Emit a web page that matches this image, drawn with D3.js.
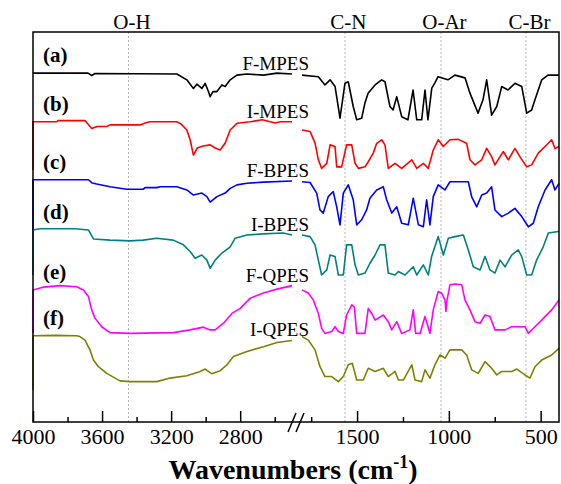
<!DOCTYPE html>
<html>
<head>
<meta charset="utf-8">
<script src="https://cdn.jsdelivr.net/npm/d3@7"></script>
<style>
body { margin: 0; background: #fff; }
text { font-family: "Liberation Serif", "Times New Roman", serif; fill: #000; }
</style>
</head>
<body>
<div class="ftir"></div>
<script>
// band assignments marked over the frame
var bandNames = ["O-H", "C-N", "O-Ar", "C-Br"];
var bandWn = [3447, 1566, 1043, 580];

var sampleNames = ["F-MPES", "I-MPES", "F-BPES", "I-BPES", "F-QPES", "I-QPES"];
var sampleTags = ["(a)", "(b)", "(c)", "(d)", "(e)", "(f)"];
var palette = ["#000000", "#ff0000", "#0000ff", "#008080", "#ff00ff", "#808000"];

var highMajor = [4000, 3600, 3200, 2800];
var highMinor = [3800, 3400, 3000, 2600];
var lowMajor = [1500, 1000, 500];
var lowMinor = [1750, 1250, 750];

// spectra: [wavenumber, offset transmittance (a.u.)], high and low range
var fmpesHigh = [[4000,90.0],[3681,90.0],[3660,89.4],[3641,89.9],[3167,89.8],[3109,88.3],[3071,86.1],[3051,87.2],[3022,86.1],[3003,87.4],[2984,85.3],[2974,84.0],[2958,85.3],[2935,85.3],[2906,87.0],[2887,86.6],[2858,88.3],[2819,89.5],[2761,89.8],[2665,89.5],[2587,90.0],[2500,89.8]];
var fmpesLow = [[1800,89.5],[1711,89.1],[1675,87.0],[1647,88.3],[1620,86.6],[1593,78.5],[1566,87.4],[1548,87.8],[1521,81.5],[1502,78.1],[1475,78.5],[1457,82.4],[1440,84.9],[1402,87.0],[1366,88.3],[1348,87.8],[1321,81.5],[1304,80.6],[1284,84.0],[1257,78.9],[1223,78.1],[1195,85.7],[1175,78.1],[1148,78.1],[1130,85.7],[1114,78.1],[1093,86.2],[1076,87.5],[1059,89.1],[1005,88.3],[967,89.5],[912,88.8],[885,84.9],[841,79.8],[814,83.2],[794,88.3],[767,79.3],[739,81.5],[712,86.6],[678,85.7],[640,87.4],[603,86.6],[576,79.8],[549,80.6],[531,83.2],[494,88.3],[460,89.5],[406,89.5],[400,89.5]];

var impesHigh = [[4000,65.3],[4000,77.6],[3863,77.6],[3855,77.9],[3699,77.9],[3660,75.9],[3629,76.4],[3573,76.4],[3554,76.8],[3380,76.8],[3351,77.3],[3322,77.6],[3167,77.6],[3142,77.0],[3109,75.5],[3090,73.0],[3071,69.1],[3049,70.9],[3015,71.4],[2974,71.7],[2945,70.9],[2916,70.4],[2887,72.2],[2858,75.5],[2819,77.2],[2742,77.6],[2672,78.1],[2597,77.3],[2568,77.6],[2500,77.6]];
var impesLow = [[1800,75.5],[1756,75.1],[1729,72.2],[1711,67.9],[1693,65.7],[1665,67.0],[1647,71.7],[1620,71.3],[1611,66.1],[1584,66.1],[1557,71.7],[1529,71.7],[1511,67.0],[1493,65.7],[1457,66.1],[1439,67.4],[1412,69.6],[1393,72.1],[1366,73.0],[1348,71.7],[1330,65.7],[1293,67.0],[1257,65.7],[1202,67.9],[1175,65.7],[1139,67.0],[1112,65.7],[1085,70.4],[1058,73.0],[1030,71.3],[994,73.0],[949,73.1],[903,72.1],[885,67.9],[858,66.6],[821,67.9],[794,70.8],[767,68.7],[749,66.6],[721,68.7],[703,70.0],[676,67.9],[640,70.8],[613,68.7],[576,66.1],[549,66.6],[513,69.6],[476,71.3],[440,73.0],[422,70.8],[400,71.3]];

var fbpesHigh = [[4000,50.0],[4000,62.8],[3679,62.8],[3658,62.0],[3631,61.7],[3554,61.0],[3457,60.4],[3361,60.4],[3351,60.8],[3283,60.8],[3264,61.0],[3167,61.0],[3109,60.2],[3071,58.9],[3022,59.4],[2993,58.5],[2974,57.1],[2935,58.5],[2887,59.4],[2858,60.6],[2819,61.5],[2761,61.9],[2665,62.2],[2500,62.5]];
var fbpesLow = [[1800,62.3],[1756,62.1],[1720,59.4],[1702,55.1],[1684,54.3],[1657,58.5],[1630,59.8],[1611,55.9],[1593,51.3],[1575,59.4],[1548,61.5],[1521,57.7],[1502,51.3],[1475,52.6],[1448,55.1],[1430,58.1],[1393,60.2],[1357,61.0],[1339,57.7],[1311,54.3],[1284,55.9],[1257,51.7],[1221,51.3],[1194,58.1],[1166,51.3],[1139,50.8],[1121,57.7],[1103,51.3],[1085,58.5],[1058,61.5],[1021,60.2],[994,62.3],[894,62.3],[876,58.5],[848,55.9],[821,58.9],[794,59.4],[767,61.0],[749,55.1],[712,53.4],[676,54.3],[640,55.5],[603,53.4],[567,50.8],[540,51.7],[513,55.9],[476,60.2],[440,62.8],[422,60.2],[400,61.9]];

var ibpesHigh = [[4000,38.5],[4000,50.0],[3959,50.3],[3757,50.3],[3679,50.0],[3650,47.7],[3554,47.4],[3438,47.2],[3362,47.4],[3283,47.9],[3188,47.4],[3129,46.2],[3090,44.5],[3061,42.8],[3022,43.6],[2993,42.3],[2974,40.2],[2945,42.3],[2906,44.1],[2858,45.7],[2829,47.9],[2761,48.7],[2667,49.0],[2551,49.2],[2500,48.7]];
var ibpesLow = [[1800,48.7],[1756,48.3],[1729,46.2],[1711,42.3],[1693,38.5],[1665,39.8],[1647,43.6],[1620,43.2],[1602,38.5],[1575,38.5],[1557,46.2],[1529,46.2],[1511,41.1],[1493,38.5],[1457,39.0],[1430,41.5],[1402,43.6],[1375,46.2],[1348,46.2],[1330,39.0],[1293,38.5],[1275,39.4],[1239,38.5],[1194,40.6],[1175,38.5],[1139,41.1],[1112,38.5],[1094,43.2],[1058,48.3],[1030,43.6],[1003,47.9],[967,48.3],[921,48.7],[894,44.9],[867,40.6],[830,39.8],[803,43.2],[776,39.8],[749,39.0],[721,42.3],[694,40.6],[658,43.6],[622,44.9],[603,43.2],[576,38.5],[549,38.5],[522,42.3],[486,45.7],[458,49.2],[404,49.6],[400,49.6]];

var fqpesHigh = [[4000,23.7],[4000,34.7],[3942,35.4],[3843,35.8],[3747,35.5],[3708,34.7],[3679,33.0],[3660,29.6],[3641,27.5],[3602,25.3],[3554,23.8],[3438,23.6],[3187,23.8],[3090,24.5],[3013,25.2],[2974,24.5],[2945,24.5],[2897,26.2],[2848,28.7],[2800,30.0],[2742,32.6],[2665,33.9],[2587,34.9],[2500,35.8]];
var fqpesLow = [[1800,34.7],[1766,33.9],[1738,32.1],[1711,28.7],[1693,24.9],[1675,23.6],[1638,24.1],[1620,25.3],[1602,24.1],[1575,23.6],[1557,28.3],[1529,30.9],[1515,30.4],[1502,23.6],[1457,23.6],[1439,30.0],[1420,28.7],[1402,27.0],[1357,28.3],[1330,26.6],[1311,24.5],[1284,26.6],[1257,23.6],[1212,24.5],[1194,29.6],[1181,23.6],[1157,23.6],[1130,27.9],[1103,23.6],[1085,29.6],[1058,34.3],[1039,33.9],[1021,32.1],[1016,29.2],[1010,32.1],[994,36.0],[967,36.2],[930,36.0],[912,32.1],[885,29.6],[858,26.6],[830,26.2],[803,28.3],[776,27.9],[749,24.5],[694,24.5],[658,25.3],[585,25.3],[567,23.6],[531,25.3],[494,27.0],[440,29.6],[400,32.1]];

var iqpesHigh = [[4000,9.2],[4000,23.0],[3872,23.1],[3747,23.0],[3728,22.8],[3699,21.9],[3670,19.4],[3650,16.8],[3621,15.1],[3573,13.4],[3496,11.5],[3438,11.3],[3283,11.3],[3206,12.2],[3109,12.8],[3032,13.9],[3003,14.5],[2964,13.3],[2916,14.1],[2877,15.6],[2839,17.7],[2761,19.0],[2665,20.2],[2587,21.3],[2500,21.8]];
var iqpesLow = [[1800,22.8],[1766,21.9],[1729,19.4],[1702,15.1],[1675,12.6],[1638,12.6],[1602,11.3],[1575,12.6],[1548,15.6],[1526,16.0],[1502,11.7],[1466,11.7],[1439,14.7],[1402,13.9],[1357,14.7],[1330,12.6],[1293,13.9],[1275,11.7],[1248,11.7],[1202,15.6],[1184,11.7],[1148,11.3],[1130,14.3],[1103,12.2],[1076,15.6],[1048,18.1],[1021,17.3],[994,19.4],[930,19.4],[903,18.1],[876,14.3],[840,13.4],[803,16.4],[767,14.7],[739,13.0],[712,13.9],[658,13.9],[630,14.5],[585,13.0],[558,12.2],[531,15.1],[494,16.8],[440,18.1],[400,19.8]];

var highSets = [fmpesHigh, impesHigh, fbpesHigh, ibpesHigh, fqpesHigh, iqpesHigh];
var lowSets = [fmpesLow, impesLow, fbpesLow, ibpesLow, fqpesLow, iqpesLow];

// set the dimensions and margins of the graph
var margin = { top: 32, right: 2, bottom: 62, left: 33 },
    width = 561 - margin.left - margin.right,
    height = 484 - margin.top - margin.bottom;

// broken x axis: two linear pieces
var xHigh = d3.scaleLinear().domain([4000, 2500]).range([0, 259]);
var xLow = d3.scaleLinear().domain([1800, 400]).range([269, width]);
var y = d3.scaleLinear().domain([1, 100.5]).range([height, 0]);

function xAny(wn) { return wn > 2000 ? xHigh(wn) : xLow(wn); }

var svg = d3.select(".ftir")
    .append("svg")
    .attr("width", width + margin.left + margin.right)
    .attr("height", height + margin.top + margin.bottom)
    .append("g")
    .attr("transform", "translate(" + margin.left + "," + margin.top + ")");

// dashed band markers
svg.selectAll(".band")
    .data(bandWn)
    .enter().append("line")
    .attr("class", "band")
    .attr("x1", function (d) { return xAny(d); })
    .attr("x2", function (d) { return xAny(d); })
    .attr("y1", 0)
    .attr("y2", height)
    .attr("stroke", "#b4b4b4")
    .attr("stroke-width", 1)
    .attr("stroke-dasharray", "2,2");

svg.selectAll(".bandLabel")
    .data(bandWn)
    .enter().append("text")
    .attr("class", "bandLabel")
    .attr("x", function (d) { return xAny(d) + 3.5; })
    .attr("y", -3)
    .attr("text-anchor", "middle")
    .style("font-size", "21px")
    .text(function (d, i) { return bandNames[i]; });

// spectra
var line = function (xs) {
    return d3.line()
        .x(function (d) { return xs(d[0]); })
        .y(function (d) { return y(d[1]); });
};

highSets.forEach(function (s, i) {
    svg.append("path")
        .datum(s)
        .attr("fill", "none")
        .attr("stroke", palette[i])
        .attr("stroke-width", 1.6)
        .attr("stroke-linejoin", "round")
        .attr("d", line(xHigh));
    svg.append("path")
        .datum(lowSets[i])
        .attr("fill", "none")
        .attr("stroke", palette[i])
        .attr("stroke-width", 1.6)
        .attr("stroke-linejoin", "round")
        .attr("d", line(xLow));

    svg.append("text")
        .attr("x", 10)
        .attr("y", y(s[1][1]) - 11)
        .style("font-size", "21px")
        .style("font-weight", "bold")
        .text(sampleTags[i]);

    svg.append("text")
        .attr("x", 276)
        .attr("y", y(s[s.length - 1][1]) - 4)
        .attr("text-anchor", "end")
        .style("font-size", "19px")
        .text(sampleNames[i]);
});

// frame
svg.append("rect")
    .attr("width", width)
    .attr("height", height)
    .attr("fill", "none")
    .attr("stroke", "#000")
    .attr("stroke-width", 1.5);

// add the x axis pieces, ticks pointing inward
function addAxis(scale, major, minor) {
    var gMaj = svg.append("g")
        .attr("transform", "translate(0," + height + ")")
        .call(d3.axisBottom(scale).tickValues(major).tickSize(-11).tickSizeOuter(0)
            .tickPadding(6).tickFormat(d3.format("d")));
    gMaj.select(".domain").remove();
    gMaj.selectAll("line").attr("stroke-width", 1.5);
    gMaj.selectAll("text").style("font-size", "22px")
        .style("font-family", "'Liberation Serif', serif");

    var gMin = svg.append("g")
        .attr("transform", "translate(0," + height + ")")
        .call(d3.axisBottom(scale).tickValues(minor).tickSize(-5).tickSizeOuter(0).tickFormat(""));
    gMin.select(".domain").remove();
    gMin.selectAll("line").attr("stroke-width", 1.5);
}
addAxis(xHigh, highMajor, highMinor);
addAxis(xLow, lowMajor, lowMinor);

// break marks
var mid = (xHigh(2500) + xLow(1800)) / 2;
[-9, -1].forEach(function (o) {
    svg.append("line")
        .attr("x1", mid + o).attr("y1", height + 10)
        .attr("x2", mid + o + 8).attr("y2", height - 9)
        .attr("stroke", "#000")
        .attr("stroke-width", 1.5);
});

// axis title
var title = svg.append("text")
    .attr("x", 260)
    .attr("y", height + 57)
    .attr("text-anchor", "middle")
    .style("font-size", "28px")
    .style("font-weight", "bold");
title.append("tspan").text("Wavenumbers (cm");
title.append("tspan").attr("dy", -11).style("font-size", "18px").text("-1");
title.append("tspan").attr("dy", 11).text(")");
</script>
</body>
</html>
